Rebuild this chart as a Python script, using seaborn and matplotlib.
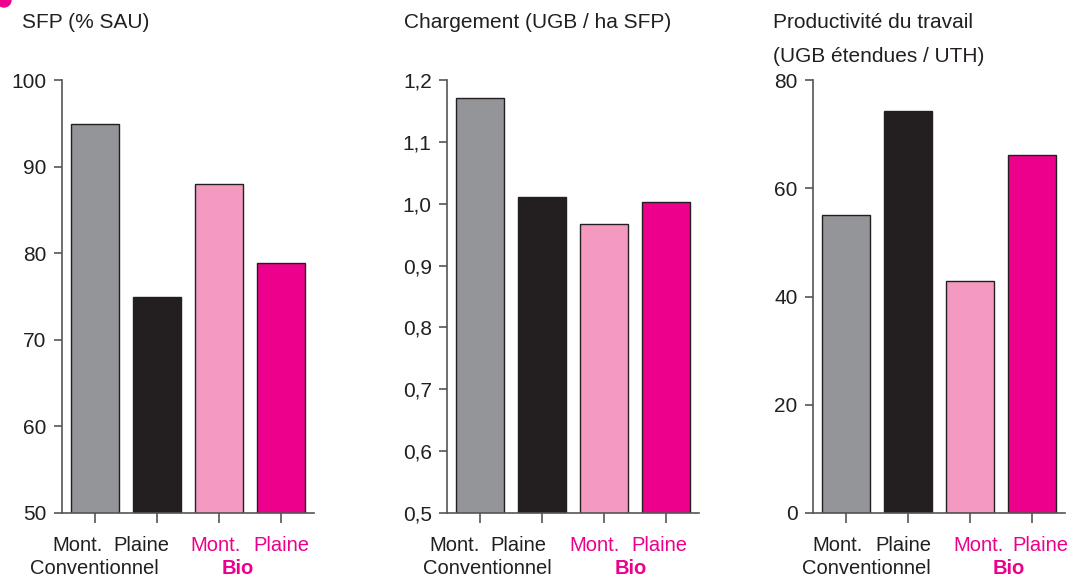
import pandas as pd
import seaborn as sns
import matplotlib.pyplot as plt
from matplotlib.ticker import FuncFormatter
from matplotlib.patches import Ellipse
from matplotlib.transforms import offset_copy

# données
categories = ['Mont. conv', 'Plaine conv', 'Mont. bio', 'Plaine bio']
tick_labels = ['Mont.', 'Plaine', 'Mont.', 'Plaine']
groups = ['Conventionnel', 'Bio']
sfp = [94.9, 75.0, 88.0, 78.9]
chargement = [1.171, 1.011, 0.968, 1.002]
productivite = [55.1, 74.3, 42.8, 66.2]

titles = [['SFP (% SAU)'], ['Chargement (UGB / ha SFP)'],
          ['Productivité du travail', '(UGB étendues / UTH)']]
ylims = [(50, 100), (0.5, 1.2), (0, 80)]
yticks = [[50, 60, 70, 80, 90, 100],
          [0.5, 0.6, 0.7, 0.8, 0.9, 1.0, 1.1, 1.2],
          [0, 20, 40, 60, 80]]

palette = ['#939598', '#231f20', '#f49ac1', '#ec008c']
dark = '#231f20'
magenta = '#ec008c'
label_colors = [dark, dark, magenta, magenta]

sns.set_style('white')
plt.rcParams['font.family'] = ['Liberation Sans', 'DejaVu Sans']
plt.rcParams['text.color'] = dark

W, H = 1071, 579
fig = plt.figure(figsize=(W / 100, H / 100), dpi=100)

# mise en page (pixels)
lefts = [62, 447, 813]
ax_w = 252
ax_bottom, ax_top = 513, 80
title_x = [22, 404, 773]
# décalages horizontaux des libellés (px), comme dans l'original
lab_dx = [[-17, -16, -3, 0], [-25, -24, -9, -7], [-8, -5, 9, 8]]
grp_dx = [[-32, -12], [-24, -4], [-11, 8]]
px = 72 / 100  # points par pixel

for i, vals in enumerate([sfp, chargement, productivite]):
    ax = fig.add_axes([lefts[i] / W, 1 - ax_bottom / H, ax_w / W, (ax_bottom - ax_top) / H])
    df = pd.DataFrame({'cat': categories, 'val': vals})
    sns.barplot(data=df, x='cat', y='val', hue='cat', palette=palette, legend=False,
                width=0.77, saturation=1, edgecolor=dark, linewidth=1.0, ax=ax)
    ax.set_xlim(-0.53, 3.53)
    ax.set_ylim(*ylims[i])
    ax.set_yticks(yticks[i])
    if i == 1:
        ax.yaxis.set_major_formatter(FuncFormatter(lambda v, p: f'{v:.1f}'.replace('.', ',')))
    else:
        ax.yaxis.set_major_formatter(FuncFormatter(lambda v, p: f'{v:.0f}'))
    ax.set_xticks(range(4))
    ax.set_xticklabels([])
    ax.set_xlabel('')
    ax.set_ylabel('')
    for s in ['top', 'right']:
        ax.spines[s].set_visible(False)
    for s in ['left', 'bottom']:
        ax.spines[s].set_color('#555555')
        ax.spines[s].set_linewidth(1.2)
    ax.tick_params(axis='y', direction='out', length=6, width=1.2, color='#555555',
                   labelsize=15, pad=5, labelcolor=dark, left=True)
    ax.tick_params(axis='x', direction='out', length=7, width=1.2, color='#555555',
                   bottom=True)

    xt = ax.get_xaxis_transform()
    for k, (lab, c) in enumerate(zip(tick_labels, label_colors)):
        tr = offset_copy(xt, fig=fig, x=lab_dx[i][k] * px, y=0, units='points')
        ax.text(k, -0.075, lab, transform=tr, ha='center', va='center',
                fontsize=14.5, color=c)
    for g, (name, c, w) in enumerate(zip(groups, [dark, magenta], ['normal', 'bold'])):
        tr = offset_copy(xt, fig=fig, x=grp_dx[i][g] * px, y=0, units='points')
        ax.text(0.5 + 2 * g, -(574 - ax_bottom) / (ax_bottom - ax_top), name,
                transform=tr, ha='center', va='baseline',
                fontsize=14.5, color=c, fontweight=w)

    for j, line in enumerate(titles[i]):
        fig.text(title_x[i] / W, 1 - (23 + 34 * j) / H, line, ha='left', va='center',
                 fontsize=15, color=dark)

# petit repère magenta coupé en haut à gauche
fig.patches.append(Ellipse((4 / W, 1.0), 14 / W, 14 / H, color=magenta,
                           transform=fig.transFigure))

fig.savefig('out.png', dpi=100)
